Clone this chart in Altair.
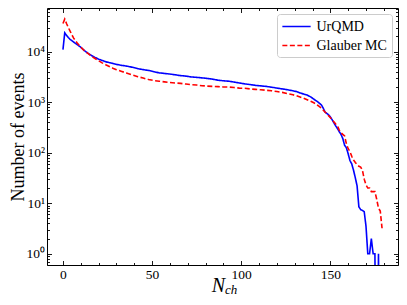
import altair as alt
import pandas as pd

# ---- data ----
urqmd_n = [0, 1, 2, 3, 4, 5, 6, 7, 8, 10, 12, 14, 16, 18, 20, 22, 24, 26, 28, 30,
           33, 36, 39, 42, 45, 48, 51, 54, 57, 60, 63, 66, 69, 72, 75, 78, 81, 84, 87, 90,
           93, 96, 99, 102, 105, 108, 111, 114, 117, 120, 123, 126, 129, 131, 133, 135, 137, 139, 141, 143,
           145, 146, 147, 148, 149, 150, 151, 152, 153, 154, 155, 156, 157, 158, 159, 160, 161, 162, 163, 164,
           165, 166, 167, 168, 169, 170, 171, 172, 173, 174, 175, 176, 177, 178]
urqmd_events = [11000, 23500, 21000, 19000, 17500, 16500, 15500, 14600, 13800, 12200, 10500, 9300, 8400, 7700, 7100, 6700, 6300, 6050, 5850, 5600,
                5350, 5150, 4900, 4600, 4400, 4250, 4000, 3800, 3700, 3600, 3480, 3350, 3280, 3150, 3100, 3020, 2950, 2850, 2720, 2650,
                2600, 2500, 2400, 2300, 2230, 2150, 2100, 2050, 1980, 1900, 1830, 1760, 1680, 1620, 1520, 1450, 1380, 1270, 1130, 1010,
                880, 760, 640, 600, 560, 510, 450, 390, 340, 300, 260, 230, 190, 140, 125, 95, 70, 60, 45, 32,
                22, 8.5, 7.5, 7.2, 6.8, 3.5, 1, 1, 2, 1, 1, 0, 1, 0]

glauber_n = [0, 1, 2, 3, 4, 5, 6, 7, 8, 10, 12, 14, 16, 18, 20, 22, 24, 26, 28, 30,
             33, 36, 39, 42, 45, 48, 51, 54, 57, 60, 63, 66, 69, 72, 75, 78, 81, 84, 87, 90,
             93, 96, 99, 102, 105, 108, 111, 114, 117, 120, 123, 126, 129, 131, 133, 135, 137, 139, 141, 143,
             145, 147, 149, 151, 153, 154, 155, 156, 157, 158, 159, 160, 161, 162, 163, 164, 165, 166, 167, 168,
             169, 170, 171, 172, 173, 174, 175, 176, 177, 178, 179]
glauber_events = [36000, 44000, 36000, 30000, 25500, 21500, 18500, 16500, 14800, 12300, 10500, 9200, 8100, 7300, 6600, 6000, 5500, 5100, 4700, 4400,
                  4050, 3750, 3450, 3200, 3000, 2800, 2680, 2600, 2520, 2450, 2400, 2350, 2280, 2220, 2180, 2120, 2080, 2050, 2030, 2000,
                  1990, 1950, 1900, 1880, 1830, 1790, 1760, 1720, 1680, 1620, 1560, 1480, 1400, 1340, 1270, 1200, 1120, 1040, 960, 860,
                  760, 640, 540, 450, 370, 340, 280, 250, 230, 215, 150, 120, 105, 85, 72, 64, 58, 54, 52, 45,
                  30, 23, 20, 20, 17, 17, 17, 12, 8, 7, 3.2]

series_names = ["UrQMD", "Glauber MC"]
series_colors = ["#0000ff", "#ff0000"]
x_tick_values = list(range(0, 190, 10))
y_tick_values = [m / 10 for m in range(6, 10)] + [m * 10 ** k for k in range(0, 5) for m in range(1, 10) if m * 10 ** k <= 70000]
superscripts = ["⁰", "¹", "²", "³", "⁴"]

df = pd.concat([
    pd.DataFrame({"nch": urqmd_n, "events": urqmd_events, "series": series_names[0]}),
    pd.DataFrame({"nch": glauber_n, "events": glauber_events, "series": series_names[1]}),
], ignore_index=True)

FONT = "Liberation Serif"
is_decade = "abs(log(datum.value)/LN10 - round(log(datum.value)/LN10)) < 0.001"
sup_arr = "[" + ",".join("'" + s + "'" for s in superscripts) + "]"
y_label_expr = f"{is_decade} ? '10' + {sup_arr}[round(log(datum.value)/LN10)] : ''"
y_tick_expr = f"{is_decade} ? -4.5 : -2.5"
x_label_expr = "datum.value % 50 == 0 ? datum.label : ''"
x_tick_expr = "datum.value % 50 == 0 ? -4.5 : -2.5"

W, H = 351, 257

x_scale = alt.Scale(domain=[-8.95, 187.95], nice=False, zero=False)
y_scale = alt.Scale(type="log", domain=[0.6, 73000], nice=False)

color = alt.Color("series:N", scale=alt.Scale(domain=series_names, range=series_colors),
                  legend=alt.Legend(title=None))
dash = alt.StrokeDash("series:N", scale=alt.Scale(domain=series_names, range=[[1, 0], [5, 2.5]]),
                      legend=alt.Legend(title=None))

common_axis = dict(domain=False, grid=False, tickColor="black", tickWidth=0.9,
                   labelFont=FONT, labelFontSize=13.5, labelColor="black")

x_bottom = alt.Axis(values=x_tick_values, labelExpr=x_label_expr, tickSize={"expr": x_tick_expr},
                    labelPadding=7, title=None, labelFlush=False, **common_axis)
y_left = alt.Axis(values=y_tick_values, labelExpr=y_label_expr, tickSize={"expr": y_tick_expr},
                  labelPadding=7, title="Number of events", titleFont=FONT, titleFontSize=18,
                  titleFontWeight="normal", titleColor="black", titleX=-24, titleY=H / 2,
                  titleBaseline="alphabetic", titleAngle=270, **common_axis)
x_top = alt.Axis(values=x_tick_values, orient="top", labels=False, tickSize={"expr": x_tick_expr},
                 title=None, domain=False, grid=False, tickColor="black", tickWidth=0.9)
y_right = alt.Axis(values=y_tick_values, orient="right", labels=False, tickSize={"expr": y_tick_expr},
                   title=None, domain=False, grid=False, tickColor="black", tickWidth=0.9)

base = alt.Chart(df).transform_calculate(ev="max(datum.events, 1e-4)")

urqmd_layer = base.transform_filter(alt.datum.series == series_names[0]).mark_line(
    strokeWidth=1.6, clip=True
).encode(
    x=alt.X("nch:Q", scale=x_scale, axis=x_bottom),
    y=alt.Y("ev:Q", scale=y_scale, axis=y_left),
    color=color, strokeDash=dash,
)

glauber_layer = base.transform_filter(alt.datum.series == series_names[1]).mark_line(
    strokeWidth=1.6, clip=True
).encode(
    x=alt.X("nch:Q", scale=x_scale, axis=x_top),
    y=alt.Y("ev:Q", scale=y_scale, axis=y_right),
    color=color, strokeDash=dash,
)

label_data = alt.Data(values=[{"t": 1}])
n_text = alt.Chart(label_data).mark_text(
    text="N", font=FONT, fontStyle="italic", fontSize=20, align="right", baseline="alphabetic", color="black"
).encode(x=alt.value(178), y=alt.value(284))
ch_text = alt.Chart(label_data).mark_text(
    text="ch", font=FONT, fontStyle="italic", fontSize=13, align="left", baseline="alphabetic", color="black"
).encode(x=alt.value(178), y=alt.value(285.5))

chart = alt.layer(urqmd_layer, glauber_layer, n_text, ch_text).resolve_axis(
    x="independent", y="independent"
).properties(
    width=W, height=H,
    autosize=alt.AutoSizeParams(type="none"),
    padding={"left": 39, "top": 0, "right": 1, "bottom": 32},
).configure_view(
    stroke="black", strokeWidth=1
).configure_legend(
    orient="top-right", offset=6, padding=4.5, fillColor="white", strokeColor="#cccccc",
    cornerRadius=3, labelFont=FONT, labelFontSize=14, labelColor="black",
    symbolType="M-2,0H2", symbolSize=200, symbolStrokeWidth=1.6, symbolOffset=7,
    rowPadding=4, labelOffset=12,
)

chart.save("out.html", embed_options={"renderer": "svg", "actions": False})
